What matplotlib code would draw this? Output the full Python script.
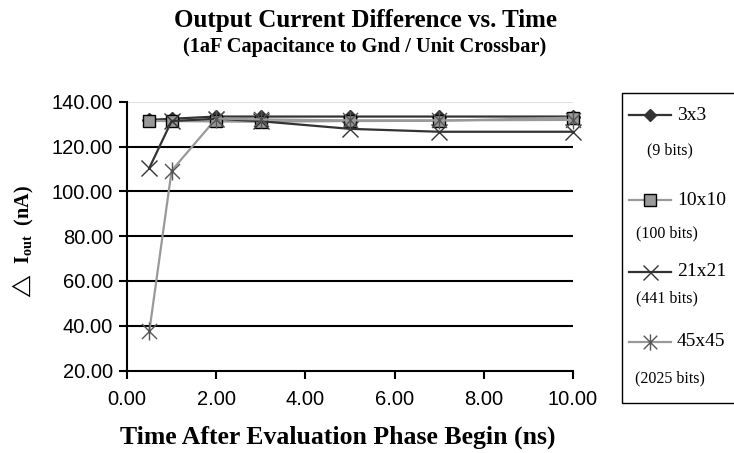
import matplotlib
matplotlib.use("Agg")
import matplotlib.pyplot as plt
from matplotlib.path import Path
from matplotlib.lines import Line2D
from matplotlib.patches import Rectangle
from matplotlib.ticker import FormatStrFormatter

# Time after evaluation phase begins (ns)
time_ns = [0.5, 1, 2, 3, 5, 7, 10]

# Output current difference (nA) for each crossbar size
i_3x3 = [132.0, 132.5, 133.5, 133.5, 133.5, 133.5, 133.5]
i_10x10 = [131.5, 131.5, 131.3, 131.2, 131.5, 131.6, 133.0]
i_21x21 = [110.5, 131.5, 132.5, 131.4, 128.0, 126.7, 126.7]
i_45x45 = [37.5, 109.3, 132.6, 132.2, 131.8, 131.8, 132.0]

series_names = ["3x3", "10x10", "21x21", "45x45"]
series_bits = ["(9 bits)", "(100 bits)", "(441 bits)", "(2025 bits)"]

y_ticks = [20, 40, 60, 80, 100, 120, 140]
x_ticks = [0, 2, 4, 6, 8, 10]

plt.rcParams["mathtext.fontset"] = "custom"
plt.rcParams["mathtext.bf"] = "Liberation Serif:bold"
plt.rcParams["mathtext.rm"] = "Liberation Serif"

# Asterisk marker: an X with a vertical stroke through it
star_path = Path(
    [(-1, -1), (1, 1), (-1, 1), (1, -1), (0, -1.2), (0, 1.2)],
    [Path.MOVETO, Path.LINETO, Path.MOVETO, Path.LINETO, Path.MOVETO, Path.LINETO],
)

DARK = "#333333"
GRAY = "#999999"

styles = [
    dict(color=DARK, marker="D", markersize=7, markerfacecolor=DARK, markeredgecolor=DARK, lw=1.6),
    dict(color=GRAY, marker="s", markersize=9, markerfacecolor=GRAY, markeredgecolor="black",
         markeredgewidth=1.0, lw=1.6),
    dict(color=DARK, marker="x", markersize=12, markeredgecolor=DARK, markeredgewidth=1.0, lw=1.6),
    dict(color=GRAY, marker=star_path, markersize=13, markeredgecolor="#555555", markeredgewidth=1.0, lw=1.6),
]

W, H = 734, 453
fig = plt.figure(figsize=(W / 100, H / 100), dpi=100)
fig.patch.set_facecolor("white")

left, right, bottom, top = 127, 573, 370.5, 102
ax = fig.add_axes([left / W, 1 - bottom / H, (right - left) / W, (bottom - top) / H])

for ys, st in zip([i_3x3, i_10x10, i_21x21, i_45x45], styles):
    ax.plot(time_ns, ys, clip_on=False, zorder=3, **st)

ax.set_xlim(0, 10)
ax.set_ylim(20, 140)
ax.set_xticks(x_ticks)
ax.set_yticks(y_ticks)
ax.xaxis.set_major_formatter(FormatStrFormatter("%.2f"))
ax.yaxis.set_major_formatter(FormatStrFormatter("%.2f"))

for y in y_ticks[1:-1]:
    ax.axhline(y, color="black", lw=1.5, zorder=1)
ax.axhline(140, color="#d9d9d9", lw=1.2, zorder=1)

for s in ["top", "right"]:
    ax.spines[s].set_visible(False)
for s in ["left", "bottom"]:
    ax.spines[s].set_linewidth(1.5)
    ax.spines[s].set_color("black")

ax.tick_params(axis="both", direction="out", length=6, width=1.5, labelsize=14.5, pad=4)
for lab in ax.get_xticklabels() + ax.get_yticklabels():
    lab.set_fontfamily("Liberation Sans")
ax.tick_params(axis="x", pad=8)

# Titles
fig.text(365 / W, 1 - 20 / H, "Output Current Difference vs. Time", ha="center", va="center",
         fontsize=18, fontweight="bold", family="Liberation Serif")
fig.text(365 / W, 1 - 47 / H, "(1aF Capacitance to Gnd / Unit Crossbar)", ha="center", va="center",
         fontsize=14.7, fontweight="bold", family="Liberation Serif")

# Axis labels
fig.text(338 / W, 1 - 437 / H, "Time After Evaluation Phase Begin (ns)", ha="center", va="center",
         fontsize=18.5, fontweight="bold", family="Liberation Serif")
fig.text(23 / W, 1 - 243 / H, "$\\triangle\\ \\mathbf{I}_{\\mathbf{out}}$  (nA)", ha="center", va="center",
         rotation=90, fontsize=14.5, fontweight="bold", family="Liberation Serif")

# Legend box
fig.add_artist(Rectangle((622 / W, 1 - 403 / H), (740 - 622) / W, (403 - 93) / H,
                         transform=fig.transFigure, facecolor="white", edgecolor="black",
                         lw=1.0, clip_on=False))
name_y = [115, 200, 272, 342]
bits_y = [150, 233, 298, 378]
bits_x = [647, 636, 636, 635]
for st, name, bits, ny, by, bx in zip(styles, series_names, series_bits, name_y, bits_y, bits_x):
    st2 = dict(st)
    st2["markersize"] = st["markersize"] * 0.9
    fig.add_artist(Line2D([629 / W, 671 / W], [1 - ny / H, 1 - ny / H], transform=fig.transFigure,
                          **{k: v for k, v in st2.items() if k != "marker"}))
    fig.add_artist(Line2D([650 / W], [1 - ny / H], transform=fig.transFigure, linestyle="none", **st2))
    fig.text(677 / W, 1 - ny / H, name, ha="left", va="center", fontsize=14, family="Liberation Serif")
    fig.text(bx / W, 1 - by / H, bits, ha="left", va="center", fontsize=11.5, family="Liberation Serif")

fig.savefig("out.png", dpi=100, facecolor="white")
